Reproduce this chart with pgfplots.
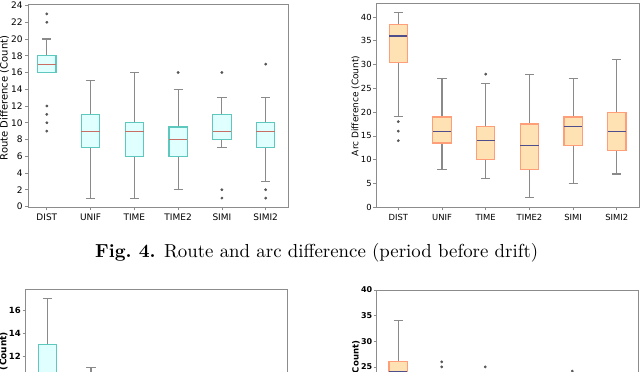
\documentclass[border=0pt]{standalone}
\usepackage{fontspec}
\usepackage{graphicx}
\usepackage{pgfplots}
\pgfplotsset{compat=1.18}
\usepgfplotslibrary{statistics}
\newfontfamily\dejavu{DejaVu Sans}

\definecolor{cyanface}{HTML}{E0FFFF}
\definecolor{cyanedge}{HTML}{5FC8BE}
\definecolor{cyanmed}{HTML}{C86E64}
\definecolor{orface}{HTML}{FFE2B4}
\definecolor{oredge}{HTML}{FF9F7A}
\definecolor{ormed}{HTML}{4E4E8C}
\definecolor{whisk}{HTML}{8A8A8A}
\definecolor{framec}{HTML}{8C8C8C}
\definecolor{flier}{HTML}{555555}

\pgfplotsset{
  bx/.style={
    scale only axis,
    axis line style={framec, line width=0.9pt},
    tick align=outside,
    tick pos=left,
    major tick length=3.2pt,
    every tick/.style={framec, line width=0.8pt},
    xtick={1,...,6},
    xticklabels={DIST,UNIF,TIME,TIME2,SIMI,SIMI2},
    /pgf/number format/assume math mode=true,
    boxplot/draw direction=y,
    boxplot/box extend=0.42,
    boxplot/whisker extend=0.21,
    boxplot/every whisker/.style={draw=whisk, line width=1.1pt},
  },
  cyanbox/.style={
    boxplot/every box/.style={draw=cyanedge, fill=cyanface, line width=1.2pt},
    boxplot/every median/.style={draw=cyanmed, line width=1.2pt},
  },
  orbox/.style={
    boxplot/every box/.style={draw=oredge, fill=orface, line width=1.2pt},
    boxplot/every median/.style={draw=ormed, line width=1.2pt},
  },
  fl/.style={boxplot/draw direction=y, mark=*, mark size=1.2pt, mark options={draw=flier, fill=flier}},
}

\begin{document}
\begin{tikzpicture}
\useasboundingbox (0pt,0pt) rectangle (640pt,372pt);
\clip (0pt,0pt) rectangle (640pt,372pt);

% top left: route difference
\begin{axis}[bx, cyanbox,
  at={(28pt,164.7pt)}, anchor=south west,
  width=260pt, height=202.6pt,
  xmin=0.57, xmax=6.51, ymin=-0.1, ymax=24.1,
  ytick={0,2,...,24},
  ticklabel style={font=\dejavu\fontsize{9}{10}\selectfont},
  yticklabel style={inner sep=2pt},
]
\addplot[fl, boxplot prepared={draw position=1, lower whisker=16, lower quartile=16, median=17, upper quartile=18, upper whisker=20}]
  coordinates {(1,23) (1,22) (1,12) (1,11) (1,10) (1,9)};
\addplot[fl, boxplot prepared={draw position=2, lower whisker=1, lower quartile=7, median=9, upper quartile=11, upper whisker=15}]
  coordinates {};
\addplot[fl, boxplot prepared={draw position=3, lower whisker=1, lower quartile=6, median=9, upper quartile=10, upper whisker=16}]
  coordinates {};
\addplot[fl, boxplot prepared={draw position=4, lower whisker=2, lower quartile=6, median=8, upper quartile=9.5, upper whisker=14}]
  coordinates {(4,16)};
\addplot[fl, boxplot prepared={draw position=5, lower whisker=7, lower quartile=8, median=9, upper quartile=11, upper whisker=13}]
  coordinates {(5,16) (5,2) (5,1)};
\addplot[fl, boxplot prepared={draw position=6, lower whisker=3, lower quartile=7, median=9, upper quartile=10, upper whisker=13}]
  coordinates {(6,17) (6,2) (6,1)};
\end{axis}

% top right: arc difference
\begin{axis}[bx, orbox,
  at={(376pt,164.7pt)}, anchor=south west,
  width=263.3pt, height=204.3pt,
  xmin=0.49, xmax=6.515, ymin=0, ymax=42.95,
  ytick={0,5,...,40},
  ticklabel style={font=\dejavu\fontsize{8.4}{10}\selectfont},
  yticklabel style={inner sep=1pt},
]
\addplot[fl, boxplot prepared={draw position=1, lower whisker=19, lower quartile=30.5, median=36, upper quartile=38.5, upper whisker=41}]
  coordinates {(1,18) (1,16) (1,14)};
\addplot[fl, boxplot prepared={draw position=2, lower whisker=8, lower quartile=13.5, median=16, upper quartile=19, upper whisker=27}]
  coordinates {};
\addplot[fl, boxplot prepared={draw position=3, lower whisker=6, lower quartile=10, median=14, upper quartile=17, upper whisker=26}]
  coordinates {(3,28)};
\addplot[fl, boxplot prepared={draw position=4, lower whisker=2, lower quartile=8, median=13, upper quartile=17.5, upper whisker=28}]
  coordinates {};
\addplot[fl, boxplot prepared={draw position=5, lower whisker=5, lower quartile=13, median=17, upper quartile=19, upper whisker=27}]
  coordinates {};
\addplot[fl, boxplot prepared={draw position=6, lower whisker=7, lower quartile=12, median=16, upper quartile=20, upper whisker=31}]
  coordinates {};
\end{axis}

% bottom left (cut by the page)
\begin{axis}[bx, cyanbox,
  at={(25.7pt,-132pt)}, anchor=south west,
  width=261.6pt, height=215pt,
  xmin=0.49, xmax=6.54, ymin=-0.85, ymax=17.85,
  ytick={0,2,...,16},
  boxplot/box extend=0.41,
  ticklabel style={font=\dejavu\bfseries\fontsize{8.5}{10}\selectfont},
  yticklabel style={inner sep=1.5pt},
]
\addplot[fl, boxplot prepared={draw position=1, lower whisker=1, lower quartile=6, median=9, upper quartile=13, upper whisker=17}]
  coordinates {};
\addplot[fl, boxplot prepared={draw position=2, lower whisker=1, lower quartile=4, median=6, upper quartile=8, upper whisker=11}]
  coordinates {};
\addplot[fl, boxplot prepared={draw position=3, lower whisker=0, lower quartile=3, median=5, upper quartile=7, upper whisker=10}]
  coordinates {};
\addplot[fl, boxplot prepared={draw position=4, lower whisker=0, lower quartile=2, median=4, upper quartile=6, upper whisker=9}]
  coordinates {};
\addplot[fl, boxplot prepared={draw position=5, lower whisker=1, lower quartile=3, median=5, upper quartile=7, upper whisker=10}]
  coordinates {};
\addplot[fl, boxplot prepared={draw position=6, lower whisker=0, lower quartile=3, median=5, upper quartile=7, upper whisker=10}]
  coordinates {};
\end{axis}

% bottom right (cut by the page)
\begin{axis}[bx, orbox,
  at={(376.7pt,-123.2pt)}, anchor=south west,
  width=261.3pt, height=205.2pt,
  xmin=0.506, xmax=6.51, ymin=0, ymax=40,
  ytick={0,5,...,40},
  ticklabel style={font=\dejavu\bfseries\fontsize{8}{10}\selectfont},
  yticklabel style={inner sep=1pt},
]
\addplot[fl, boxplot prepared={draw position=1, lower whisker=12, lower quartile=20, median=24, upper quartile=26, upper whisker=34}]
  coordinates {};
\addplot[fl, boxplot prepared={draw position=2, lower whisker=4, lower quartile=9, median=12, upper quartile=15, upper whisker=21}]
  coordinates {(2,26) (2,25)};
\addplot[fl, boxplot prepared={draw position=3, lower whisker=3, lower quartile=8, median=11, upper quartile=14, upper whisker=20}]
  coordinates {(3,25)};
\addplot[fl, boxplot prepared={draw position=4, lower whisker=2, lower quartile=7, median=10, upper quartile=13, upper whisker=21}]
  coordinates {};
\addplot[fl, boxplot prepared={draw position=5, lower whisker=4, lower quartile=9, median=12, upper quartile=15, upper whisker=20}]
  coordinates {(5,24.2)};
\addplot[fl, boxplot prepared={draw position=6, lower whisker=3, lower quartile=8, median=11, upper quartile=15, upper whisker=22}]
  coordinates {};
\end{axis}

% axis titles
\node[rotate=90, font=\dejavu\fontsize{10}{12}\selectfont] at (4.5pt,274pt) {Route Difference (Count)};
\node[rotate=90, font=\dejavu\fontsize{9}{11}\selectfont] at (355.5pt,266.2pt) {Arc Difference (Count)};
\node[rotate=90, anchor=east, inner sep=0pt, font=\dejavu\bfseries\fontsize{9}{11}\selectfont] at (3.5pt,40.3pt) {Route Difference (Count)};
\node[rotate=90, anchor=east, inner sep=0pt, font=\dejavu\bfseries\fontsize{8.5}{10}\selectfont] at (356pt,31.3pt) {Arc Difference (Count)};

% caption
\node[anchor=base west, inner sep=0pt] at (95pt,114.3pt)
  {\resizebox{443pt}{!}{\textbf{Fig.~4.} Route and arc difference (period before drift)}};
\end{tikzpicture}
\end{document}
